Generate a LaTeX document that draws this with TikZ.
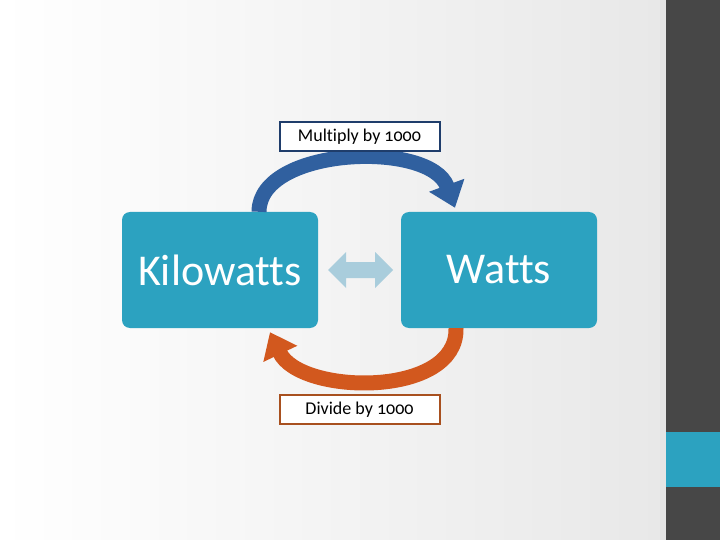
\documentclass[tikz,border=0pt]{standalone}
\usepackage{fontspec}
\setmainfont{Carlito}[Ligatures=NoCommon]
\newfontfamily\rulefont[Numbers=OldStyle,Ligatures=NoCommon]{Carlito}
\usetikzlibrary{arrows.meta}

\definecolor{unitblue}{HTML}{2CA2C0}
\definecolor{swapblue}{HTML}{A9CDDC}
\definecolor{mulblue}{HTML}{30609F}
\definecolor{mulframe}{HTML}{1F3D6B}
\definecolor{divorange}{HTML}{D2581E}
\definecolor{divframe}{HTML}{A8501F}
\definecolor{sidebar}{HTML}{474747}

\begin{document}
\begin{tikzpicture}[x=1pt,y=-1pt,
    unitbox/.style={fill=unitblue, rounded corners=8pt, minimum width=196pt,
        minimum height=116pt, text=white, font=\fontsize{44}{46}\selectfont},
    rulebox/.style={draw, line width=2pt, fill=white, minimum width=160pt,
        minimum height=29pt, inner sep=0pt, font=\rulefont\fontsize{18}{20}\selectfont},
    flowarrow/.style={line width=15pt, -{Triangle[width=36pt,length=24pt]}}]
    % Globals
    \useasboundingbox (0,0) rectangle (720,540);
    \shade[left color=white, right color=black!9] (0,0) rectangle (660,540);
    \fill[black!10] (660,0) rectangle (666,540);
    \fill[sidebar] (666,0) rectangle (720,540);
    \fill[unitblue] (666,432) rectangle (720,487);

    % Units
    \node[unitbox] (kilo) at (220,270) {Kilowatts};
    \node[unitbox] (watts) at (499,270) {Watts};
    \coordinate (SWAP) at (360.5,270);
    \fill[swapblue] (SWAP) ++(-32.5,0) -- ++(18,-18) -- ++(0,10) -- ++(29,0)
        -- ++(0,-10) -- ++(18,18) -- ++(-18,18) -- ++(0,-10) -- ++(-29,0)
        -- ++(0,10) -- cycle;

    % Conversions
    \draw[flowarrow, draw=mulblue] ([xshift=39pt]kilo.north)
        .. controls +(0,-65) and +(-25,-68) .. ([shift={(-44,-4)}]watts.north);
    \draw[flowarrow, draw=divorange] ([xshift=-43pt]watts.south)
        .. controls +(2,70) and +(30,63) .. ([shift={(50,4)}]kilo.south);

    \node[rulebox, draw=mulframe] (mul) at (359.5,136.5) {Multiply by 1000};
    \node[rulebox, draw=divframe] (div) at (359.5,409.5) {Divide by 1000};

\end{tikzpicture}
\end{document}
